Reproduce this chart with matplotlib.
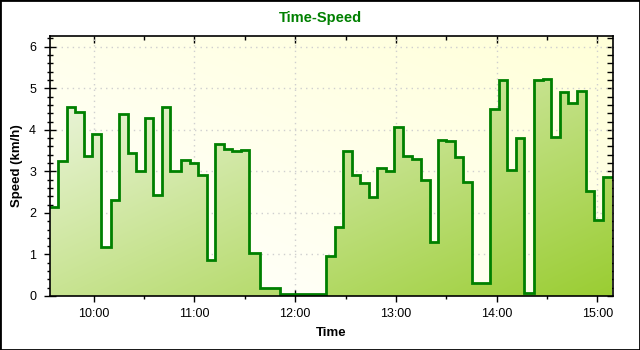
import numpy as np
import pandas as pd
import matplotlib
matplotlib.use('Agg')
import matplotlib.pyplot as plt
import matplotlib.dates as mdates
from matplotlib.colors import to_rgb
from matplotlib.patches import Rectangle
from matplotlib.ticker import MultipleLocator

# ---------------- data ----------------
times = ["09:34:00", "09:38:36", "09:44:06", "09:49:00", "09:54:12", "09:59:00",
         "10:04:18", "10:10:06", "10:15:06", "10:20:18", "10:25:12", "10:30:36",
         "10:35:06", "10:40:30", "10:45:30", "10:52:00", "10:57:12", "11:02:06",
         "11:07:30", "11:12:24", "11:17:36", "11:22:36", "11:27:42", "11:32:30",
         "11:38:48", "11:51:00", "12:18:24", "12:23:42", "12:28:30", "12:33:42",
         "12:38:36", "12:44:00", "12:48:48", "12:54:06", "12:58:54", "13:04:18",
         "13:09:48", "13:14:48", "13:20:18", "13:25:06", "13:29:54", "13:35:12",
         "13:40:00", "13:45:24", "13:55:54", "14:01:24", "14:06:12", "14:11:36",
         "14:16:30", "14:22:18", "14:27:48", "14:32:24", "14:37:48", "14:42:36",
         "14:48:00", "14:53:24", "14:58:12", "15:03:30", "15:08:54"]
speeds = [2.15, 3.26, 4.54, 4.44, 3.38, 3.91, 1.19, 2.32, 4.37, 3.44, 3.00, 4.29,
          2.42, 4.54, 3.00, 3.28, 3.20, 2.92, 0.86, 3.67, 3.55, 3.50, 3.52, 1.03,
          0.19, 0.06, 0.97, 1.65, 3.48, 2.92, 2.73, 2.39, 3.09, 3.00, 4.06, 3.36,
          3.31, 2.80, 1.30, 3.76, 3.72, 3.35, 2.75, 0.32, 4.51, 5.19, 3.04, 3.81,
          0.08, 5.20, 5.23, 3.84, 4.90, 4.64, 4.94, 2.54, 1.84, 2.87, 2.87]
x_range = ["09:34:00", "15:09:00"]
y_range = [0, 6.26]
title_text = "Time-Speed"
x_label = "Time"
y_label = "Speed (km/h)"

# ---------------- styling ----------------
plt.rcParams['font.family'] = ['Liberation Sans', 'DejaVu Sans']
W, H = 640, 350
fig = plt.figure(figsize=(W / 100, H / 100), dpi=100)
fig.patch.set_facecolor('white')
ax = fig.add_axes([50 / W, 54 / H, 562.5 / W, 260 / H])

day = "2000-01-01 "
x = mdates.date2num(pd.to_datetime([day + t for t in times]))
x0, x1 = mdates.date2num(pd.to_datetime([day + t for t in x_range]))
y = np.array(speeds)
ax.set_xlim(x0, x1)
ax.set_ylim(*y_range)

# background gradient (white bottom-left -> light yellow top-right)
n = 256
u = np.linspace(0, 1, n)[None, :]
v = np.linspace(1, 0, n)[:, None]
s_bg = (u + v) / 2
c_lo = np.array(to_rgb('#FFFFFF'))
c_hi = np.array(to_rgb('#FFFFD8'))
bg = c_lo + (c_hi - c_lo) * s_bg[..., None]
ax.imshow(bg, extent=[x0, x1, y_range[0], y_range[1]], aspect='auto',
          origin='upper', zorder=0, interpolation='bilinear')

ax.grid(True, which='major', color='#CFCFCF', linestyle=(0, (1, 3)), lw=1, zorder=0.5)
ax.set_axisbelow(True)

# fill gradient (pale top-left -> yellowgreen bottom-right)
poly = ax.fill_between(x, y, 0, step='post', facecolor='none', edgecolor='none')
s_f = (u + (1 - v)) / 2
f_lo = np.array(to_rgb('#F6FAF2'))
f_hi = np.array(to_rgb('#9ACD32'))
fg = f_lo + (f_hi - f_lo) * s_f[..., None]
im = ax.imshow(fg, extent=[x0, x1, y_range[0], y_range[1]], aspect='auto',
               origin='upper', zorder=1, interpolation='bilinear')
im.set_clip_path(poly.get_paths()[0], transform=ax.transData)

ax.step(x, y, where='post', color='#008000', lw=2, zorder=3, solid_joinstyle='miter')

# axes / ticks
for sp in ax.spines.values():
    sp.set_color('black')
    sp.set_linewidth(1.2)
    sp.set_zorder(4)

ax.xaxis.set_major_locator(mdates.HourLocator())
ax.xaxis.set_minor_locator(mdates.MinuteLocator(byminute=[30]))
ax.xaxis.set_major_formatter(mdates.DateFormatter('%H:%M'))
ax.yaxis.set_major_locator(MultipleLocator(1))
ax.yaxis.set_minor_locator(MultipleLocator(0.2))
ax.tick_params(which='major', direction='inout', length=8, width=1, labelsize=9,
               colors='black')
ax.tick_params(axis='y', which='major', pad=6)
ax.tick_params(axis='x', which='major', pad=4.5)
ax.tick_params(which='minor', direction='inout', length=5, width=1)

top = ax.secondary_xaxis('top')
top.xaxis.set_major_locator(mdates.HourLocator())
top.xaxis.set_minor_locator(mdates.MinuteLocator(byminute=[30]))
top.tick_params(which='major', direction='in', length=5, width=1, labeltop=False)
top.tick_params(which='minor', direction='in', length=3, width=1)
top.spines['top'].set_visible(False)
right = ax.secondary_yaxis('right')
right.yaxis.set_major_locator(MultipleLocator(1))
right.yaxis.set_minor_locator(MultipleLocator(0.2))
right.tick_params(which='both', direction='in', length=4, width=1, labelright=False)
right.spines['right'].set_visible(False)

ax.set_xlabel(x_label, fontsize=9.5, fontweight='bold')
ax.set_ylabel(y_label, fontsize=9.5, fontweight='bold')
ax.xaxis.set_label_coords(0.5, -(333 - 296) / 260)
ax.xaxis.label.set_va('center')
ax.yaxis.set_label_coords(-(50 - 17) / 562.5, 0.5)
ax.yaxis.label.set_va('center')

fig.text(0.5, 1 - 18 / H, title_text, ha='center', va='center', fontsize=10.5,
         fontweight='bold', color='#008000')

fig.patches.append(Rectangle((0, 0), 1, 1, transform=fig.transFigure, fill=False,
                             edgecolor='black', lw=2, zorder=10))

fig.savefig('out.png', dpi=100)
